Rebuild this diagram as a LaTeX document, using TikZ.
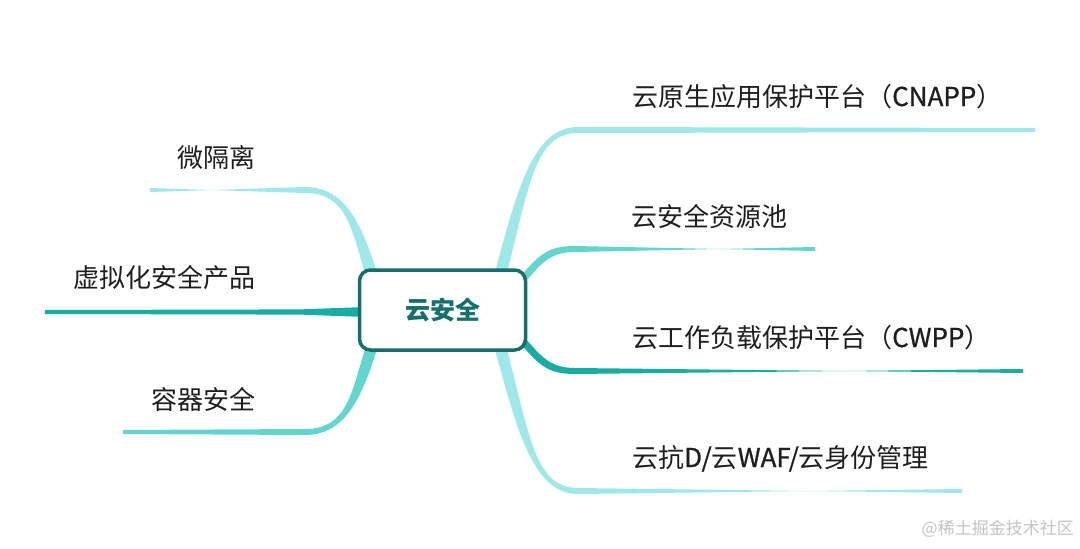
\documentclass[tikz,border=0pt]{standalone}
\usepackage{fontspec}
\setmainfont{Noto Sans CJK SC}
\newfontfamily\latinbold[FakeBold=0.8]{Noto Sans CJK SC}
\usetikzlibrary{calc}
\definecolor{lightc}{HTML}{9EE8EA}
\definecolor{midc}{HTML}{63D5CF}
\definecolor{tealc}{HTML}{17ADA4}
\definecolor{darkc}{HTML}{14706A}
\definecolor{txtc}{HTML}{1E1E1E}
\definecolor{wmc}{HTML}{C4C4C4}
\newcommand{\lat}[1]{{\latinbold #1}}
% #1 colour, #2 start, #3 c1, #4 c2, #5 bend, #6 end, #7 start half-width vector, #8 bend half-width vector
\newcommand{\taperbranch}[8]{%
  \fill[#1] ($#2+#7$) .. controls ($#3+#7$) and ($#4+#8$) .. ($#5+#8$)
    -- ($#6+(0,2)$) -- ($#6-(0,2)$) -- ($#5-#8$)
    .. controls ($#4-#8$) and ($#3-#7$) .. ($#2-#7$) -- cycle;}
\begin{document}
\begin{tikzpicture}[x=1pt,y=-1pt,
  leaf/.style={inner sep=0pt,text=txtc,font=\fontsize{26}{30}\selectfont},
  hub/.style={draw=darkc,line width=3.5pt,rounded corners=11pt,fill=white,
    minimum width=166pt,minimum height=80pt,text=darkc,font=\bfseries\fontsize{25}{29}\selectfont}]
\useasboundingbox (0,0) rectangle (1080,549);
\fill[white] (0,0) rectangle (1080,549);

% hub position
\coordinate (hc) at (442.5,310);
% branch coordinates
\coordinate (s1) at (500,276);  \coordinate (b1) at (578,130); \coordinate (e1) at (1035,130);
\coordinate (s2) at (522,280);  \coordinate (b2) at (575,249); \coordinate (e2) at (815,249);
\coordinate (s3) at (522,340);  \coordinate (b3) at (575,371); \coordinate (e3) at (1023,371);
\coordinate (s4) at (500,346);  \coordinate (b4) at (578,491); \coordinate (e4) at (962,491);
\coordinate (s5) at (372,276);  \coordinate (b5) at (305,190); \coordinate (e5) at (150,190);
\coordinate (s6) at (372,346);  \coordinate (b6) at (305,432); \coordinate (e6) at (123,432);
\coordinate (s7) at (365,312);  \coordinate (b7) at (300,312); \coordinate (e7) at (45,312);

% branches (behind the hub)
\taperbranch{lightc}{(s1)}{(523,190)}{(533,130)}{(b1)}{(e1)}{(6,0)}{(0,3)}
\taperbranch{midc}{(s2)}{(540,260)}{(548,249)}{(b2)}{(e2)}{(0,-5.5)}{(0,-3)}
\taperbranch{tealc}{(s3)}{(540,360)}{(548,371)}{(b3)}{(e3)}{(0,-5.5)}{(0,-3)}
\taperbranch{lightc}{(s4)}{(523,430)}{(533,491)}{(b4)}{(e4)}{(6,0)}{(0,-3)}
\taperbranch{lightc}{(s5)}{(357,228)}{(347,190)}{(b5)}{(e5)}{(6,0)}{(0,-3)}
\taperbranch{midc}{(s6)}{(357,394)}{(347,432)}{(b6)}{(e6)}{(6,0)}{(0,3)}
\fill[tealc] ($(s7)+(0,-5)$) -- ($(b7)+(0,-2.6)$) -- ($(e7)+(0,-2)$) -- ($(e7)+(0,2)$) -- ($(b7)+(0,2.6)$) -- ($(s7)+(0,5)$) -- cycle;

% hub
\node[hub] (hub) at (hc) {云安全};

% leaf labels
\node[leaf,anchor=base west] (l1) at (632,106) {云原生应用保护平台（\lat{CNAPP}）};
\node[leaf,anchor=base west] (l2) at (631,226) {云安全资源池};
\node[leaf,anchor=base west] (l3) at (632,347) {云工作负载保护平台（\lat{CWPP}）};
\node[leaf,anchor=base west] (l4) at (632,467) {云抗\lat{D/}云\lat{WAF/}云身份管理};
\node[leaf,anchor=base east] (l5) at (256,167) {微隔离};
\node[leaf,anchor=base east] (l6) at (256,287) {虚拟化安全产品};
\node[leaf,anchor=base east] (l7) at (256,409) {容器安全};

% watermark
\node[anchor=east,inner sep=0pt,text=wmc,font=\fontsize{17}{19}\selectfont] (wm) at (1074,529) {@稀土掘金技术社区};
\end{tikzpicture}
\end{document}
